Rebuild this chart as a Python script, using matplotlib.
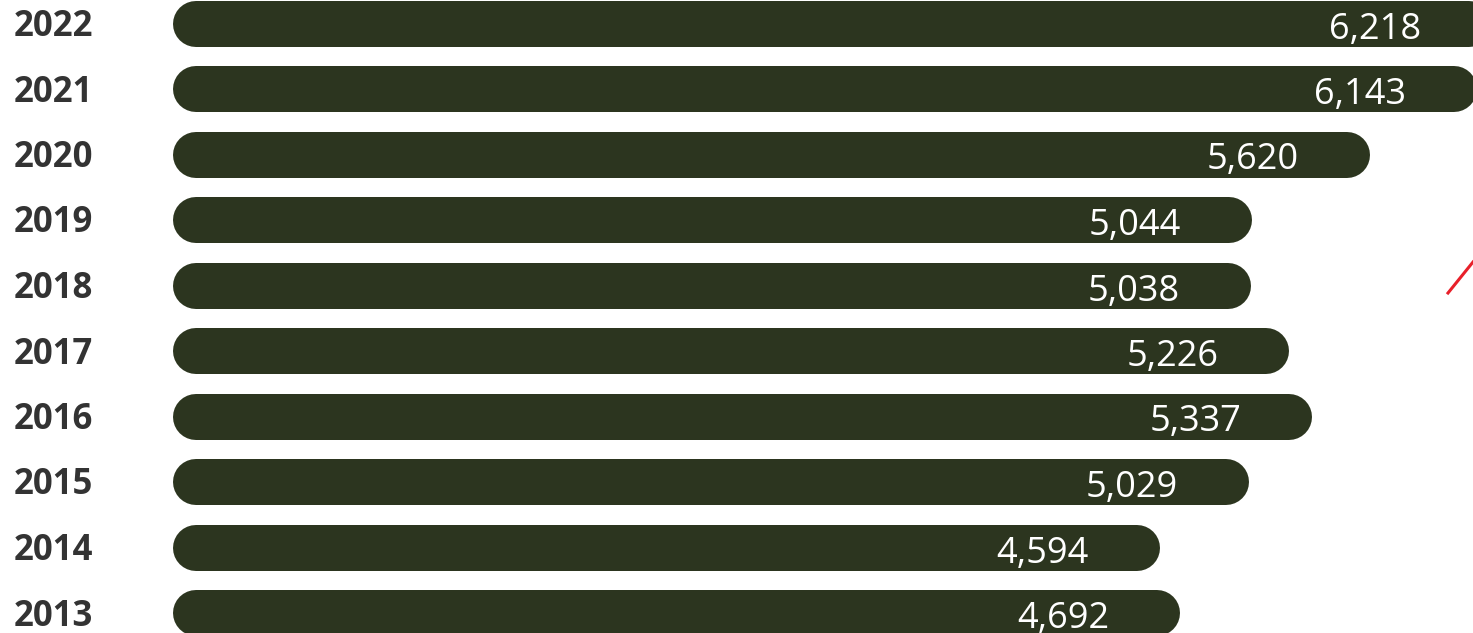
import matplotlib.pyplot as plt
import numpy as np

years = ["2013", "2014", "2015", "2016", "2017", "2018", "2019", "2020", "2021", "2022"]
values = [4692, 4594, 5029, 5337, 5226, 5038, 5044, 5620, 6143, 6218]

bar_color = "#2c351f"
dpi = 100
pt = 72 / dpi
fig = plt.figure(figsize=(14.73, 6.33), dpi=dpi)
ax = fig.add_axes([0, 0, 1, 1])

# pixel mapping: x_px = 196 + 0.2048 * v ; row spacing 65.5 px
scale = 0.2048
x0 = 196
ax.set_xlim(-x0 / scale, (1473 - x0) / scale)
ax.set_ylim((613 - 633) / 65.5, 613 / 65.5)

bar_h_px = 46
y = np.arange(len(years))
for yi, v in zip(y, values):
    ax.plot([0, v], [yi, yi], color=bar_color, lw=bar_h_px * pt, solid_capstyle="round")
    ax.annotate(f"{v:,}", xy=(v, yi), xytext=(-48 * pt, -15 * pt),
                textcoords="offset points", ha="right", va="baseline",
                color="white", fontsize=26, family="Open Sans")

for yi, label in zip(y, years):
    ax.annotate(label, xy=(0, yi), xycoords=("axes fraction", "data"),
                xytext=(14 * pt, -12.5 * pt), textcoords="offset points",
                ha="left", va="baseline", color="#333333", fontsize=25,
                fontweight="bold", family="Open Sans")

# stray red stroke at right edge
fig.add_artist(plt.Line2D([1448 / 1473, 1473 / 1473], [1 - 293 / 633, 1 - 262 / 633],
                          color="#e8202a", lw=2.2, transform=fig.transFigure))

ax.axis("off")
fig.savefig("out.png", dpi=dpi)
